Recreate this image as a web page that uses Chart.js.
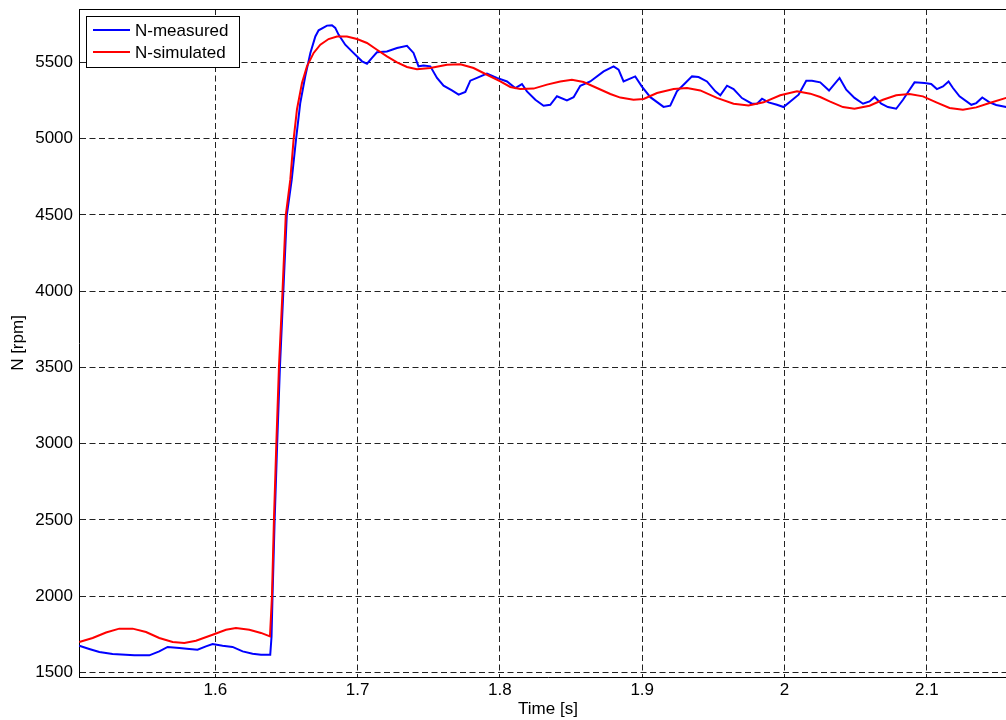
<!DOCTYPE html>
<html>
<head>
<meta charset="utf-8">
<title>N measured vs simulated</title>
<script src="https://cdn.jsdelivr.net/npm/chart.js@4"></script>
<style>
  html, body { margin: 0; padding: 0; background: #fff; overflow: hidden; }
  #wrap { width: 1006px; height: 720px; overflow: hidden; }
  canvas { display: block; }
</style>
</head>
<body>
<div id="wrap"><canvas id="chart" width="1017" height="720"></canvas></div>
<script>
// values
const measuredTime = [1.5044,1.5114,1.5185,1.5278,1.5431,1.5536,1.5606,1.5665,1.5747,1.5817,
  1.5875,1.5934,1.5981,1.6051,1.6121,1.6192,1.6262,1.6321,1.6386,1.6395,
  1.6402,1.6417,1.6435,1.6454,1.6478,1.6502,1.6537,1.6567,1.6597,1.6632,
  1.6668,1.6703,1.6726,1.6785,1.6820,1.6843,1.6866,1.6913,1.6960,1.7031,
  1.7066,1.7101,1.7136,1.7206,1.7277,1.7347,1.7393,1.7428,1.7464,1.7511,
  1.7558,1.7604,1.7663,1.7710,1.7757,1.7792,1.7839,1.7909,1.7979,1.8050,
  1.8108,1.8155,1.8190,1.8249,1.8307,1.8354,1.8401,1.8471,1.8518,1.8565,
  1.8635,1.8729,1.8799,1.8834,1.8869,1.8951,1.8998,1.9057,1.9150,1.9197,
  1.9244,1.9303,1.9350,1.9396,1.9455,1.9514,1.9549,1.9596,1.9642,1.9701,
  1.9771,1.9807,1.9842,1.9888,1.9947,1.9993,2.0041,2.0099,2.0153,2.0193,
  2.0251,2.0313,2.0387,2.0434,2.0492,2.0552,2.0598,2.0633,2.0680,2.0727,
  2.0785,2.0833,2.0879,2.0914,2.0984,2.1031,2.1071,2.1114,2.1153,2.1184,
  2.1230,2.1313,2.1348,2.1390,2.1441,2.1488,2.1558];
const measuredRpm = [1675,1654,1634,1621,1612,1612,1638,1667,1660,1654,
  1649,1671,1686,1675,1667,1638,1623,1616,1616,1734,
  1998,2501,3006,3500,3998,4495,4731,4994,5234,5408,
  5562,5670,5710,5741,5743,5726,5682,5616,5572,5507,
  5491,5529,5566,5572,5594,5609,5562,5474,5480,5474,
  5398,5347,5316,5288,5306,5380,5398,5426,5398,5375,
  5332,5358,5310,5255,5216,5222,5278,5251,5272,5347,
  5375,5441,5474,5452,5375,5408,5341,5272,5208,5216,
  5310,5365,5408,5404,5375,5310,5284,5347,5325,5266,
  5229,5229,5262,5238,5222,5207,5244,5288,5380,5380,
  5369,5315,5398,5321,5267,5229,5244,5273,5229,5207,
  5196,5255,5321,5369,5365,5358,5325,5342,5375,5332,
  5277,5222,5233,5270,5238,5221,5207];

const simulatedTime = [1.5044,1.5138,1.5232,1.5325,1.5419,1.5513,1.5606,1.5700,1.5782,1.5864,
  1.5981,1.6075,1.6145,1.6239,1.6321,1.6384,1.6398,1.6412,1.6429,1.6447,
  1.6471,1.6495,1.6527,1.6550,1.6574,1.6609,1.6644,1.6691,1.6738,1.6796,
  1.6855,1.6925,1.6996,1.7066,1.7136,1.7206,1.7277,1.7347,1.7417,1.7511,
  1.7628,1.7722,1.7815,1.7909,1.8003,1.8073,1.8143,1.8237,1.8331,1.8424,
  1.8506,1.8588,1.8682,1.8776,1.8846,1.8939,1.9010,1.9104,1.9221,1.9315,
  1.9408,1.9525,1.9642,1.9747,1.9853,1.9970,2.0088,2.0181,2.0251,2.0317,
  2.0411,2.0492,2.0598,2.0692,2.0785,2.0879,2.0973,2.1067,2.1160,2.1254,
  2.1348,2.1441,2.1558];
const simulatedRpm = [1700,1726,1762,1787,1787,1765,1726,1700,1693,1708,
  1747,1780,1791,1780,1759,1736,1996,2501,3006,3498,
  3972,4495,4731,4994,5193,5365,5474,5562,5616,5653,
  5670,5670,5653,5627,5583,5539,5500,5470,5455,5463,
  5485,5487,5463,5419,5375,5339,5326,5328,5354,5375,
  5386,5371,5332,5293,5269,5255,5260,5299,5326,5332,
  5316,5267,5229,5218,5238,5284,5310,5295,5273,5244,
  5207,5196,5216,5255,5284,5293,5277,5238,5201,5190,
  5205,5234,5267];

const xTicks = [1.6, 1.7, 1.8, 1.9, 2, 2.1];
const yTicks = [1500, 2000, 2500, 3000, 3500, 4000, 4500, 5000, 5500];

const toPoints = (xs, ys) => xs.map((x, i) => ({ x: x, y: ys[i] }));

Chart.defaults.font.family = '"Liberation Sans", Arial, sans-serif';
Chart.defaults.font.size = 17;
Chart.defaults.color = '#000';

// top border + MATLAB style legend box
const framePlugin = {
  id: 'frame',
  afterDatasetsDraw(chart) {
    const { ctx, chartArea: a } = chart;
    ctx.save();
    ctx.strokeStyle = '#000';
    ctx.lineWidth = 1;
    ctx.beginPath();
    ctx.moveTo(a.left, Math.round(a.top) + 0.5);
    ctx.lineTo(a.right, Math.round(a.top) + 0.5);
    ctx.stroke();

    const bx = 86.5, by = 16.5, bw = 153, bh = 51;
    ctx.fillStyle = '#fff';
    ctx.fillRect(bx, by, bw, bh);
    ctx.strokeRect(bx, by, bw, bh);

    const items = [chart.data.datasets[0], chart.data.datasets[1]];
    items.forEach((ds, i) => {
      const y = 30 + i * 22;
      ctx.strokeStyle = ds.borderColor;
      ctx.lineWidth = 2;
      ctx.beginPath();
      ctx.moveTo(93, y);
      ctx.lineTo(130, y);
      ctx.stroke();
      ctx.fillStyle = '#000';
      ctx.font = '17px "Liberation Sans", Arial, sans-serif';
      ctx.textBaseline = 'middle';
      ctx.textAlign = 'left';
      ctx.fillText(ds.label, 135, y + 1);
    });
    ctx.restore();
  }
};

const gridStyle = { color: '#222', lineWidth: 1, drawTicks: false };
const borderStyle = { display: true, color: '#000', width: 1, dash: [6, 3.5] };

new Chart(document.getElementById('chart'), {
  type: 'line',
  data: {
    datasets: [
      {
        label: 'N-measured',
        data: toPoints(measuredTime, measuredRpm),
        borderColor: '#0000ff',
        borderWidth: 2,
        pointRadius: 0,
        tension: 0,
        order: 1
      },
      {
        label: 'N-simulated',
        data: toPoints(simulatedTime, simulatedRpm),
        borderColor: '#ff0000',
        borderWidth: 2,
        pointRadius: 0,
        tension: 0,
        order: 0
      }
    ]
  },
  options: {
    responsive: false,
    animation: false,
    layout: { padding: { top: 9, right: 0, bottom: 0, left: 0 } },
    plugins: { legend: { display: false }, tooltip: { enabled: false } },
    scales: {
      x: {
        type: 'linear',
        min: 1.5042,
        max: 2.1634,
        afterBuildTicks: s => { s.ticks = xTicks.map(v => ({ value: v })); },
        afterFit: s => { s.height = 43; s.paddingLeft = 0; s.paddingRight = 0; },
        grid: gridStyle,
        border: borderStyle,
        ticks: { padding: 3, maxRotation: 0, callback: v => String(v) },
        title: { display: true, text: 'Time [s]', padding: { top: 0, bottom: 0 } }
      },
      y: {
        min: 1470,
        max: 5850,
        afterBuildTicks: s => { s.ticks = yTicks.map(v => ({ value: v })); },
        afterFit: s => { s.width = 79; s.paddingTop = 0; s.paddingBottom = 0; },
        grid: gridStyle,
        border: borderStyle,
        ticks: { padding: 6, callback: v => String(v) },
        title: { display: true, text: 'N [rpm]', padding: { top: 8, bottom: 0 } }
      }
    }
  },
  plugins: [framePlugin]
});
</script>
</body>
</html>
